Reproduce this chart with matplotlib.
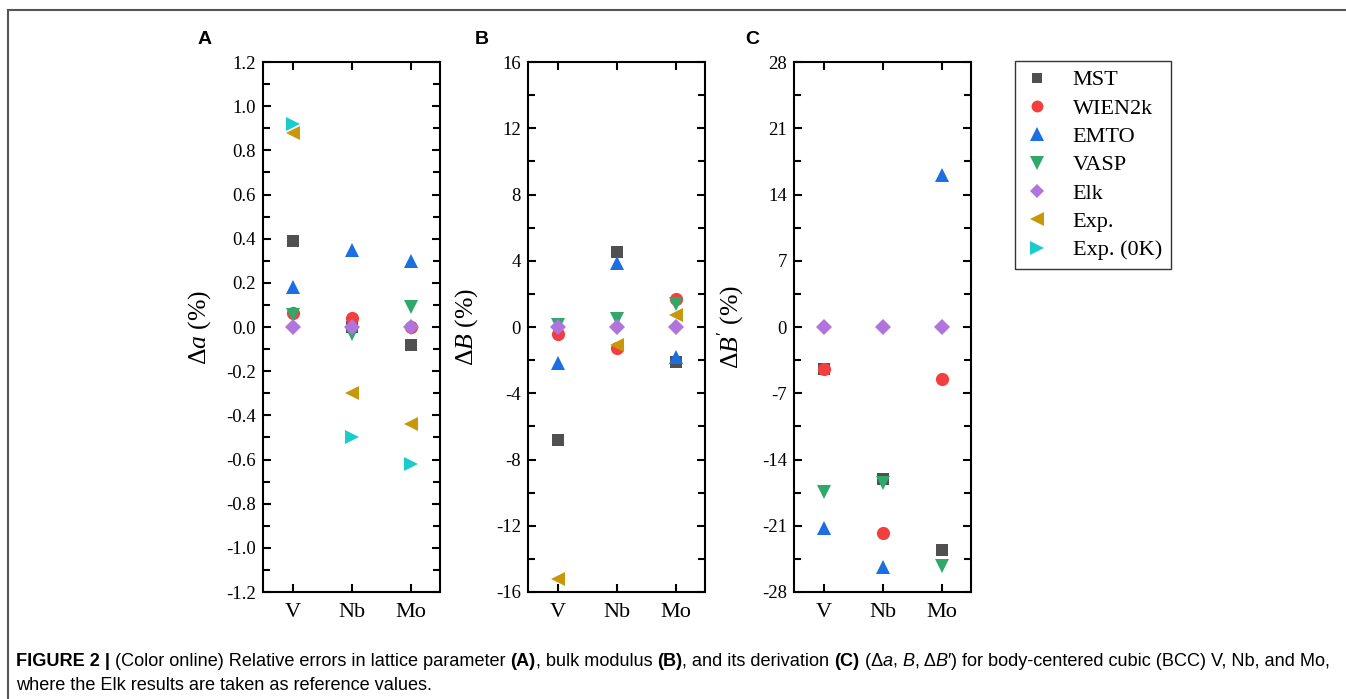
import matplotlib
matplotlib.use('Agg')
import matplotlib.pyplot as plt
import numpy as np
from matplotlib.lines import Line2D
from matplotlib.ticker import MultipleLocator, FormatStrFormatter

nan = np.nan

elements = ['V', 'Nb', 'Mo']
methods = ['MST', 'WIEN2k', 'EMTO', 'VASP', 'Elk', 'Exp.', 'Exp. (0K)']
colors = ['#505050', '#f23f3f', '#1c6ee3', '#2fa86a', '#b173dc', '#c9970a', '#1bcccc']
markers = ['s', 'o', '^', 'v', 'D', '<', '>']
msizes = [8.0, 9.5, 10.5, 10.5, 8.0, 10.5, 10.5]

# (A) relative error of lattice parameter, %
da_mst = [0.39, 0.0, -0.08]
da_wien = [0.065, 0.04, 0.0]
da_emto = [0.18, 0.35, 0.30]
da_vasp = [0.055, -0.03, 0.09]
da_elk = [0.0, 0.0, 0.0]
da_exp = [0.88, -0.30, -0.44]
da_exp0 = [0.92, -0.50, -0.62]

# (B) relative error of bulk modulus, %
db_mst = [-6.85, 4.55, -2.1]
db_wien = [-0.42, -1.25, 1.7]
db_emto = [-2.2, 3.85, -1.8]
db_vasp = [0.15, 0.5, 1.4]
db_elk = [0.0, 0.0, 0.0]
db_exp = [-15.2, -1.1, 0.75]
db_exp0 = [nan, nan, nan]

# (C) relative error of pressure derivative B', %
dbp_mst = [-4.4, -16.1, -23.6]
dbp_wien = [-4.4, -21.8, -5.5]
dbp_emto = [-21.2, -25.4, 16.1]
dbp_vasp = [-17.4, -16.5, -25.3]
dbp_elk = [0.0, 0.0, 0.0]
dbp_exp = [nan, nan, nan]
dbp_exp0 = [nan, nan, nan]

panels = [
    ('A', [da_mst, da_wien, da_emto, da_vasp, da_elk, da_exp, da_exp0],
     r'$\Delta\mathit{a}$ (%)', (-1.2, 1.2), 0.2, 0.1, '%.1f'),
    ('B', [db_mst, db_wien, db_emto, db_vasp, db_elk, db_exp, db_exp0],
     r'$\Delta\mathit{B}$ (%)', (-16, 16), 4, 2, '%d'),
    ('C', [dbp_mst, dbp_wien, dbp_emto, dbp_vasp, dbp_elk, dbp_exp, dbp_exp0],
     r"$\Delta\mathit{B}'$ (%)", (-28, 28), 7, 3.5, '%d'),
]

plt.rcParams['font.family'] = 'Liberation Serif'
plt.rcParams['mathtext.fontset'] = 'custom'
plt.rcParams['mathtext.rm'] = 'Liberation Serif'
plt.rcParams['mathtext.it'] = 'Liberation Serif:italic'

W, H = 1346, 699
fig = plt.figure(figsize=(W / 100, H / 100), dpi=100)

lefts = [263, 528, 794]
label_x = [-0.285, -0.27, -0.265]
letter_x = [205, 482, 752]
x = np.arange(1, len(elements) + 1)

for k, (letter, series, ylab, ylim, major, minor, fmt) in enumerate(panels):
    ax = fig.add_axes([lefts[k] / W, 1 - 592 / H, 177 / W, 530 / H])
    for i, vals in enumerate(series):
        ax.plot(x, vals, linestyle='none', marker=markers[i], ms=msizes[i],
                color=colors[i], mew=0)
    ax.set_xlim(0.5, 3.5)
    ax.set_ylim(*ylim)
    ax.set_xticks(x)
    ax.set_xticklabels(elements, fontsize=16)
    ax.yaxis.set_major_locator(MultipleLocator(major))
    ax.yaxis.set_minor_locator(MultipleLocator(minor))
    ax.yaxis.set_major_formatter(FormatStrFormatter(fmt))
    ax.tick_params(axis='both', which='both', direction='in', top=True, right=True,
                   width=1.5, colors='black')
    ax.tick_params(axis='both', which='major', length=6)
    ax.tick_params(axis='y', which='minor', length=5)
    ax.tick_params(axis='y', labelsize=13.5, pad=5)
    ax.tick_params(axis='x', pad=8)
    for s in ax.spines.values():
        s.set_linewidth(1.5)
    ax.set_ylabel(ylab, fontsize=18.5)
    ax.yaxis.set_label_coords(label_x[k], 0.5)
    fig.text(letter_x[k] / W, 1 - 40 / H, letter, fontsize=14, fontweight='bold',
             family='Liberation Sans', ha='center', va='center')

handles = [Line2D([], [], linestyle='none', marker=markers[i], ms=msizes[i] * 0.9,
                  color=colors[i], mew=0) for i in range(len(methods))]
leg = fig.legend(handles, methods, loc='upper left',
                 bbox_to_anchor=(1015 / W, 1 - 61 / H), fontsize=16,
                 frameon=True, fancybox=False, edgecolor='black',
                 handlelength=1.2, handletextpad=1.0, labelspacing=0.35,
                 borderpad=0.4, borderaxespad=0)
leg.get_frame().set_linewidth(1.0)

# page frame lines
fig.add_artist(Line2D([8 / W, 1], [1 - 10 / H, 1 - 10 / H], color='#555555', lw=1.5))
fig.add_artist(Line2D([8 / W, 8 / W], [0, 1 - 10 / H], color='#555555', lw=1.5))

# caption, written piece by piece so bold / italic parts sit inline
line1 = [('FIGURE 2 |', 'bold', 'normal'),
         (' (Color online) Relative errors in lattice parameter ', 'normal', 'normal'),
         ('(A)', 'bold', 'normal'),
         (', bulk modulus ', 'normal', 'normal'),
         ('(B)', 'bold', 'normal'),
         (', and its derivation ', 'normal', 'normal'),
         ('(C)', 'bold', 'normal'),
         (' (\u0394', 'normal', 'normal'),
         ('a', 'normal', 'italic'),
         (', ', 'normal', 'normal'),
         ('B', 'normal', 'italic'),
         (', \u0394', 'normal', 'normal'),
         ('B\u2032', 'normal', 'italic'),
         (') for body-centered cubic (BCC) V, Nb, and Mo,', 'normal', 'normal')]
line2 = [('where the Elk results are taken as reference values.', 'normal', 'normal')]

renderer = fig.canvas.get_renderer()


def write_line(parts, y, size, draw=True):
    xpos = 16.0
    made = []
    for txt, weight, style in parts:
        t = fig.text(xpos / W, 1 - y / H, txt, fontsize=size, fontweight=weight,
                     fontstyle=style, family='Liberation Sans', va='center')
        xpos = t.get_window_extent(renderer).x1
        made.append(t)
    if not draw:
        for t in made:
            t.remove()
    return xpos


end = write_line(line1, 661, 11.5, draw=False)
cap_size = 11.5 * (1335 - 16) / (end - 16)
write_line(line1, 661, cap_size)
write_line(line2, 686, cap_size)

fig.savefig('out.png', dpi=100)
